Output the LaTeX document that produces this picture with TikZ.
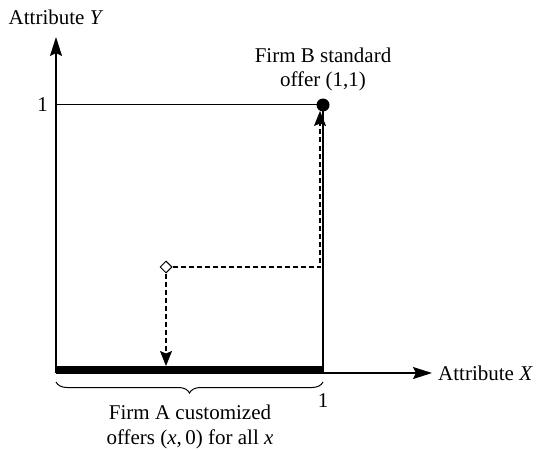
\documentclass[tikz,border=0pt]{standalone}
\usepackage{fontspec}
\setmainfont{Liberation Serif}
\usetikzlibrary{arrows.meta,shapes.geometric,decorations.pathreplacing}
\tikzset{
  lbl/.style={inner sep=0pt, font=\fontsize{21}{24.5}\selectfont},
  axis/.style={line width=1.5pt, -{Stealth[length=19pt,width=12pt,inset=3pt]}},
  guide/.style={line width=1.1pt, dash pattern=on 5pt off 3pt,
                -{Stealth[length=15pt,width=12pt,inset=2.5pt]}},
}
\begin{document}
\begin{tikzpicture}[x=1pt,y=-1pt]
  \useasboundingbox (0,0) rectangle (537,449);
  % corners of the unit square
  \coordinate (O) at (56,373);
  \coordinate (X1) at (323,373);
  \coordinate (Y1) at (56,105);
  \coordinate (ytip) at (56,37);
  \coordinate (xtip) at (432,373);
  % axes
  \draw[axis] (O) -- (ytip);
  \draw[axis] (O) -- (xtip);
  % unit square edges
  \draw[line width=1pt] (Y1) -- (323,105);
  \draw[line width=1.5pt] (X1) -- (323,105);
  % Firm A's offers along the X axis
  \fill (56,366) rectangle (323,373);
  % Firm B's standard offer
  \node[circle, fill=black, inner sep=0pt, minimum size=13pt] (B) at (323,105) {};
  % a consumer's ideal point
  \node[diamond, draw, fill=white, line width=1pt, inner sep=0pt,
        minimum width=12pt, minimum height=12pt] (c) at (166,267) {};
  \coordinate (turn) at (320,267);
  \coordinate (btip) at (320,111);
  \coordinate (atip) at (166,366);
  \draw[guide] (c.east) -- (turn) -- (btip);
  \draw[guide] (c.south) -- (atip);
  % brace under the bar
  \draw[line width=1pt, decorate, decoration={brace, mirror, amplitude=11pt}]
    (56,382) -- (323,382);
  % labels
  \node[lbl, anchor=base] (ly) at (56,25) {Attribute \textit{Y}};
  \node[lbl, anchor=base east] (one-y) at (48,112) {1};
  \node[lbl, anchor=base west] (lx) at (438,380) {Attribute \textit{X}};
  \node[lbl, anchor=base] (one-x) at (323,407) {1};
  \node[lbl, anchor=base] (fb1) at (323,63) {Firm B standard};
  \node[lbl, anchor=base] (fb2) at (323,87) {offer (1,1)};
  \node[lbl, anchor=base] (fa1) at (190,419) {Firm A customized};
  \node[lbl, anchor=base] (fa2) at (190,444) {offers (\textit{x},\,0) for all \textit{x}};
\end{tikzpicture}
\end{document}
